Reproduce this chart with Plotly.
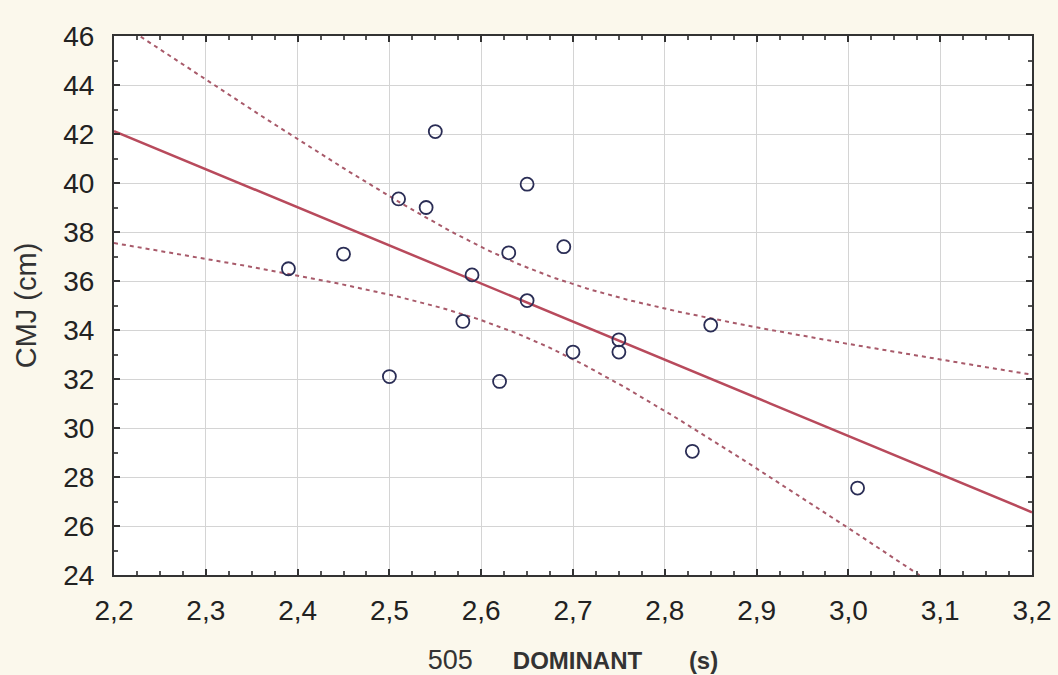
import numpy as np
import plotly.graph_objects as go

# Data
x_505_dominant = [2.39, 2.45, 2.50, 2.51, 2.54, 2.55, 2.58, 2.59, 2.62, 2.63,
                  2.65, 2.65, 2.69, 2.70, 2.75, 2.75, 2.83, 2.85, 3.01]
y_cmj = [36.5, 37.1, 32.1, 39.35, 39.0, 42.1, 34.35, 36.25, 31.9, 37.15,
         39.95, 35.2, 37.4, 33.1, 33.6, 33.1, 29.05, 34.2, 27.55]

x_ticks = [2.2, 2.3, 2.4, 2.5, 2.6, 2.7, 2.8, 2.9, 3.0, 3.1, 3.2]
y_ticks = [24, 26, 28, 30, 32, 34, 36, 38, 40, 42, 44, 46]

# Linear regression with 95% confidence band of the mean
xa = np.array(x_505_dominant)
ya = np.array(y_cmj)
n = len(xa)
slope, intercept = np.polyfit(xa, ya, 1)
resid = ya - (intercept + slope * xa)
s = np.sqrt(np.sum(resid ** 2) / (n - 2))
sxx = np.sum((xa - xa.mean()) ** 2)
t_crit = 2.110  # t(0.975, df=17)
xg = np.linspace(2.2, 3.2, 201)
yfit = intercept + slope * xg
half = t_crit * s * np.sqrt(1.0 / n + (xg - xa.mean()) ** 2 / sxx)

line_col = "#b84a5c"
band_col = "#a85a6a"
bg = "#fbf8ec"

fig = go.Figure()
fig.add_trace(go.Scatter(x=xg, y=yfit + half, mode="lines",
                         line=dict(color=band_col, width=2, dash="4px,4px"),
                         hoverinfo="skip", showlegend=False))
fig.add_trace(go.Scatter(x=xg, y=yfit - half, mode="lines",
                         line=dict(color=band_col, width=2, dash="4px,4px"),
                         hoverinfo="skip", showlegend=False))
fig.add_trace(go.Scatter(x=xg, y=yfit, mode="lines",
                         line=dict(color=line_col, width=2.5),
                         hoverinfo="skip", showlegend=False))
fig.add_trace(go.Scatter(x=x_505_dominant, y=y_cmj, mode="markers",
                         marker=dict(symbol="circle-open", size=13,
                                     color="#2a2d55", line=dict(width=1.8, color="#2a2d55")),
                         showlegend=False))

sp = "&nbsp;"
xtitle = ('<span style="font-size:27px">505</span>' + sp * 6 +
          '<b>DOMINANT</b>' + sp * 7 + '<b>(s)</b>')

fig.update_layout(
    width=1058, height=675,
    margin=dict(l=114, r=26, t=36, b=100),
    paper_bgcolor=bg,
    plot_bgcolor="#ffffff",
    separators=",.",
    font=dict(family="Liberation Sans, Arial, sans-serif", color="#222222", size=24),
    xaxis=dict(
        range=[2.2, 3.2], tickvals=x_ticks, tickformat=".1f", automargin=False,
        showgrid=True, gridcolor="#d4d4d4", gridwidth=1.2,
        zeroline=False, showline=True, linecolor="#333333", linewidth=2, mirror="allticks",
        ticks="inside", ticklen=6, tickcolor="#333333", tickwidth=1.5,
        minor=dict(dtick=0.025, ticks="inside", ticklen=4, tickcolor="#555555", showgrid=False),
        tickfont=dict(size=28, color="#222222"),
        ticklabelstandoff=9,
        title=dict(text=xtitle, font=dict(size=24, color="#333333"), standoff=28),
    ),
    yaxis=dict(
        range=[24, 46], tickvals=y_ticks, automargin=False,
        showgrid=True, gridcolor="#d4d4d4", gridwidth=1.2,
        zeroline=False, showline=True, linecolor="#333333", linewidth=2, mirror="allticks",
        ticks="inside", ticklen=6, tickcolor="#333333", tickwidth=1.5,
        minor=dict(dtick=1, ticks="inside", ticklen=4, tickcolor="#555555", showgrid=False),
        tickfont=dict(size=28, color="#222222"),
        ticklabelstandoff=12,
        title=dict(text="CMJ (cm)", font=dict(size=29, color="#333333"), standoff=18),
    ),
)

fig.write_html(
    "out.html",
    config={"displayModeBar": False},
    post_script=("document.body.style.margin='0';"
                 "document.body.style.overflow='hidden';"
                 "document.body.style.background='" + bg + "';"),
)
